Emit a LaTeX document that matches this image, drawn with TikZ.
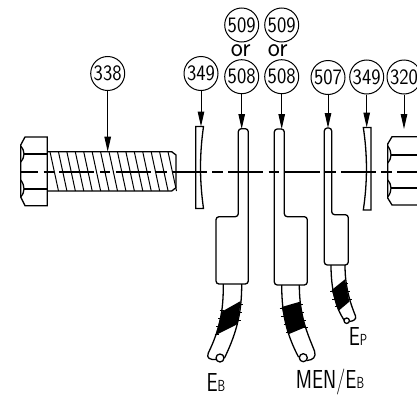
\documentclass[tikz,border=0pt]{standalone}
\usepackage{fontspec}
\usetikzlibrary{arrows.meta}
\newcommand{\tagnum}[1]{\scalebox{.9}[1]{#1}}
\newcommand{\smallcap}[2]{\scalebox{.76}[1]{\fontsize{26}{26}\selectfont #1\fontsize{16}{16}\selectfont #2}}
\tikzset{
  tagnode/.style={draw,circle,line width=1pt,minimum size=34pt,inner sep=0pt,font=\sffamily\fontsize{22}{22}\selectfont},
  ortext/.style={inner sep=0pt,font=\sffamily\fontsize{27}{27}\selectfont},
  wiretext/.style={inner sep=0pt,font=\sffamily},
  part/.style={line width=1.3pt},
  lead/.style={line width=1pt,-{Triangle[length=15pt,width=6.5pt]}}
}
\begin{document}
\begin{tikzpicture}[x=1pt,y=-1pt]
  \clip (0,0) rectangle (417,399);
  \node[tagnode] (tagbolt) at (107.7,73.5) {\tagnum{338}};
  \node[tagnode] (tagwashera) at (201,73.5) {\tagnum{349}};
  \node[tagnode] (tagalta) at (241.7,25) {\tagnum{509}};
  \node[ortext] (ora) at (240.7,51) {\scalebox{.95}[1]{or}};
  \node[tagnode] (tagluga) at (241.7,76.7) {\tagnum{508}};
  \node[tagnode] (tagaltb) at (281.7,25) {\tagnum{509}};
  \node[ortext] (orb) at (277.7,51) {\scalebox{.95}[1]{or}};
  \node[tagnode] (taglugb) at (281.7,76.7) {\tagnum{508}};
  \node[tagnode] (taglugc) at (328,77.5) {\tagnum{507}};
  \node[tagnode] (tagwasherb) at (366.7,77) {\tagnum{349}};
  \node[tagnode] (tagnut) at (404,77) {\tagnum{320}};
  \coordinate (bolttop) at (107.7,151.7);
  \coordinate (washeratop) at (201,126.5);
  \coordinate (lugatop) at (241.7,129);
  \coordinate (lugbtop) at (281.7,129);
  \coordinate (lugctop) at (328,128);
  \coordinate (washerbtop) at (366.7,127.5);
  \coordinate (nuttop) at (404,129);
  \draw[lead] (tagbolt) -- (bolttop);
  \draw[lead] (tagwashera) -- (washeratop);
  \draw[lead] (tagluga) -- (lugatop);
  \draw[lead] (taglugb) -- (lugbtop);
  \draw[lead] (taglugc) -- (lugctop);
  \draw[lead] (tagwasherb) -- (washerbtop);
  \draw[lead] (tagnut) -- (nuttop);
  % bolt
  \draw[part] (47.3,137) -- (25,137) -- (20.7,145) -- (20.7,197) -- (25,205.7) -- (47.3,205.7) -- cycle;
  \draw[part] (47.3,154) -- (24,154) (47.3,189) -- (24,189);
  \draw[part] (20.7,146) .. controls (23,149) and (24,151) .. (24,154) .. controls (24,157) and (23,159) .. (20.7,162);
  \draw[part] (20.7,180) .. controls (23,183) and (24,186) .. (24,189) .. controls (24,192) and (23,194) .. (20.7,197);
  \draw[part] (47.3,151.7) -- (171.7,151.7) -- (176,155) -- (176,187.7) -- (171.7,191) -- (47.3,191);
  \foreach \n in {0,...,14}
    \draw[line width=1pt] ({50+8.43*\n},151.7) -- ({58.5+8.43*\n},191);
  % washers
  \draw[part] (195.7,126.5) -- (203.5,126.5) .. controls (199.5,155) and (199.5,180) .. (203.5,208.5) -- (195.7,208.5) -- cycle;
  \draw[part] (371,127.5) -- (363.3,127.5) .. controls (367.5,155) and (367.5,182) .. (363.3,210) -- (371,210) -- cycle;
  % lugs
  \draw[part,rounded corners=3pt] (248.3,284) -- (248.3,128.7) -- (238.3,128.7) -- (238.3,216.7) -- (216,216.7) -- (216,284) -- cycle;
  \draw[part,rounded corners=3pt] (274.3,285) -- (274.3,129) -- (284.3,129) -- (284.3,216.7) -- (307.3,216.7) -- (307.3,285) -- cycle;
  \draw[part,rounded corners=3pt] (324.3,265) -- (324.3,128) -- (331.7,128) -- (331.7,214.7) -- (348.3,214.7) -- (348.3,265) -- cycle;
  % wires
  \fill (240.7,301) -- (221.7,311.7) -- (216,335) -- (237.7,324) -- cycle;
  \fill (281.7,307) -- (300,301.7) -- (305,327.3) -- (288.3,334.3) -- cycle;
  \fill (331.7,290) -- (345,279.3) -- (349.3,301.7) -- (338.3,311) -- cycle;
  \draw[part] (223.3,284) .. controls (223.3,305) and (222,325) .. (208.3,353) .. controls (206,358) and (210,360) .. (216,359.5);
  \draw[part] (241.7,284) .. controls (241.7,310) and (238,330) .. (224.5,358);
  \draw[part,fill=white] (220,358) circle (4);
  \draw[part] (281.7,285) .. controls (281.7,315) and (287,335) .. (298.5,357);
  \draw[part] (299.3,285) .. controls (299.5,315) and (306,330) .. (314.5,351) .. controls (316.5,357) and (313,360) .. (307,360.5);
  \draw[part,fill=white] (303.3,357.7) circle (4);
  \draw[part] (331,265) .. controls (331,290) and (336,308) .. (344,320);
  \draw[part] (345,265) .. controls (345,285) and (349,300) .. (355.5,316) .. controls (356.5,319) and (354,321) .. (349.5,321.5);
  \draw[part,fill=white] (346.7,320.7) circle (2.7);
  \foreach \x/\y in {221.7/310,220/318,218/326,216.5/334,241/304,240/312,238.5/320}
    \draw[line width=.3pt] (\x-2,\y) -- (\x+2,\y);
  \foreach \x/\y in {281.5/308,283/316,285.5/324,288/332,300.5/304,302/312,304/320,306/327}
    \draw[line width=.3pt] (\x-2,\y) -- (\x+2,\y);
  \foreach \x/\y in {332/291,334/299,336.5/306,346/283,347.5/291,349.5/299}
    \draw[line width=.3pt] (\x-2,\y) -- (\x+2,\y);
  % nut
  \draw[part] (417,136.7) -- (392,136.7) -- (387.7,144) -- (387.7,198) -- (392,205) -- (417,205);
  \draw[part] (417,155) -- (391,155) (417,188) -- (391,188);
  \draw[part] (387.7,146) .. controls (390,149) and (391,152) .. (391,155) .. controls (391,158) and (390,160) .. (387.7,163);
  \draw[part] (387.7,180) .. controls (390,183) and (391,185) .. (391,188) .. controls (391,191) and (390,194) .. (387.7,197);
  % centre line
  \coordinate (axisleft) at (20,171.5);
  \coordinate (axisright) at (417,171.5);
  \draw[line width=2pt,dash pattern=on 35pt off 5.5pt on 10.5pt off 5.3pt,dash phase=17pt] (axisleft) -- (axisright);
  % labels
  \node[wiretext] (texteb) at (216,382) {\smallcap{E}{B}};
  \node[wiretext] (textmen) at (330,382) {\smallcap{MEN/E}{B}};
  \node[wiretext] (textep) at (358,336) {\smallcap{E}{P}};
\end{tikzpicture}
\end{document}
